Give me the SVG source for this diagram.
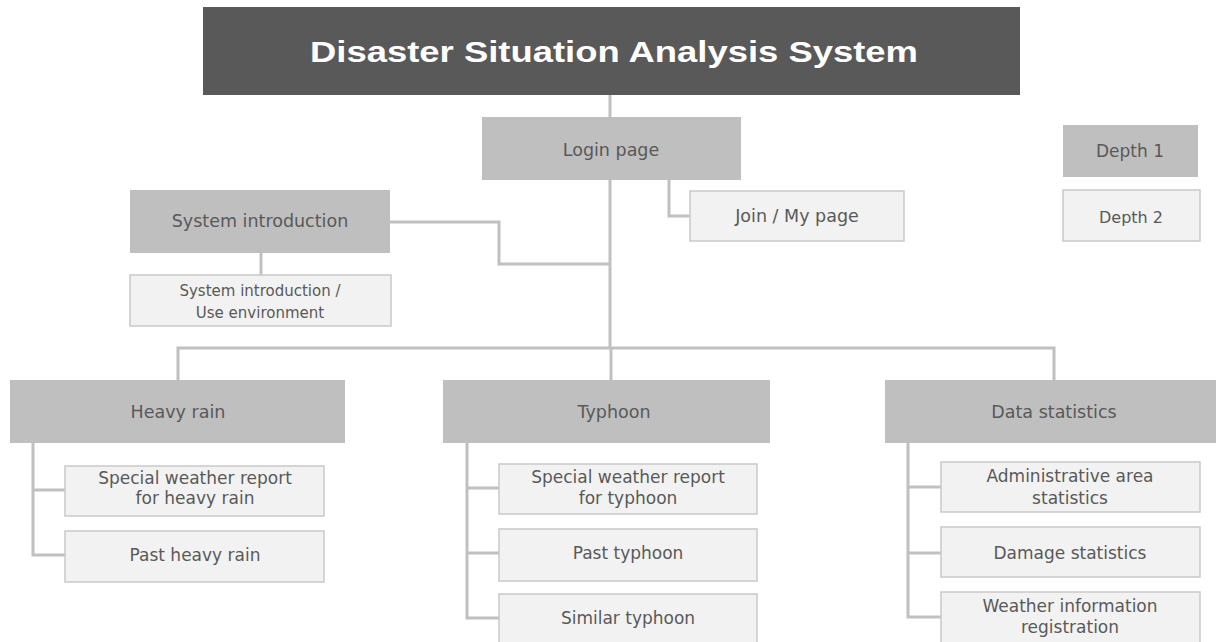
<svg xmlns="http://www.w3.org/2000/svg" width="1218" height="642" viewBox="0 0 1218 642">
<style>
.d1{fill:#bfbfbf;}
.d2{fill:#f2f2f2;stroke:#c9c9c9;stroke-width:1.5;}
.t{font-family:"DejaVu Sans","Noto Sans",sans-serif;fill:#595959;text-anchor:middle;}
.m{font-size:17.5px;}
.k{font-size:17px;}
.s{font-size:15px;}
.c{fill:none;stroke:#c0c0c0;stroke-width:3;}
</style>
<rect width="1218" height="642" fill="#ffffff"/>
<g id="connectors">
<path class="c" d="M610 95 V117"/>
<path class="c" d="M610 180 V348"/>
<path class="c" d="M669 180 V216 H690"/>
<path class="c" d="M390 222 H499 V264 H610"/>
<path class="c" d="M261 253 V275"/>
<path class="c" d="M178 380 V348 H1054 V380"/>
<path class="c" d="M611 348 V380"/>
<path class="c" d="M33 443 V555 H65 M33 490 H65"/>
<path class="c" d="M467 443 V618 H499 M467 488 H499 M467 553 H499"/>
<path class="c" d="M908 443 V617 H941 M908 487 H941 M908 553 H941"/>
</g>
<g id="title">
<rect x="203" y="7" width="817" height="88" fill="#595959"/>
<text x="614" y="62" font-family="Liberation Sans, Arial, sans-serif" font-weight="bold" font-size="30" fill="#ffffff" text-anchor="middle" textLength="608" lengthAdjust="spacingAndGlyphs">Disaster Situation Analysis System</text>
</g>
<g id="login"><rect class="d1" x="482" y="117" width="259" height="63"/><text class="t m" x="611" y="155.5">Login page</text></g>
<g id="join"><rect class="d2" x="690" y="191" width="214" height="50"/><text class="t m" x="797" y="222">Join / My page</text></g>
<g id="sysintro"><rect class="d1" x="130" y="190" width="260" height="63"/><text class="t m" x="260" y="226.5">System introduction</text></g>
<g id="sysintro-sub"><rect class="d2" x="130" y="275" width="261" height="51"/><text class="t s" x="260" y="295.5">System introduction /</text><text class="t s" x="260" y="317.5">Use environment</text></g>
<g id="depth1"><rect class="d1" x="1063" y="125" width="135" height="52"/><text class="t k" x="1130" y="156.5">Depth 1</text></g>
<g id="depth2"><rect class="d2" x="1063" y="190" width="137" height="51"/><text class="t" font-size="16" x="1131" y="223">Depth 2</text></g>
<g id="heavyrain"><rect class="d1" x="10" y="380" width="335" height="63"/><text class="t m" x="178" y="418">Heavy rain</text></g>
<g id="hr1"><rect class="d2" x="65" y="466" width="259" height="50"/><text class="t k" x="195" y="484">Special weather report</text><text class="t k" x="195" y="504">for heavy rain</text></g>
<g id="hr2"><rect class="d2" x="65" y="531" width="259" height="51"/><text class="t k" x="195" y="561">Past heavy rain</text></g>
<g id="typhoon"><rect class="d1" x="443" y="380" width="327" height="63"/><text class="t m" x="614" y="418">Typhoon</text></g>
<g id="ty1"><rect class="d2" x="499" y="464" width="258" height="50"/><text class="t k" x="628" y="483">Special weather report</text><text class="t k" x="628" y="504">for typhoon</text></g>
<g id="ty2"><rect class="d2" x="499" y="529" width="258" height="52"/><text class="t k" x="628" y="559">Past typhoon</text></g>
<g id="ty3"><rect class="d2" x="499" y="594" width="258" height="60"/><text class="t k" x="628" y="624">Similar typhoon</text></g>
<g id="datastats"><rect class="d1" x="885" y="380" width="331" height="63"/><text class="t m" x="1054" y="418">Data statistics</text></g>
<g id="ds1"><rect class="d2" x="941" y="462" width="259" height="50"/><text class="t k" x="1070" y="482">Administrative area</text><text class="t k" x="1070" y="504">statistics</text></g>
<g id="ds2"><rect class="d2" x="941" y="527" width="259" height="50"/><text class="t k" x="1070" y="559">Damage statistics</text></g>
<g id="ds3"><rect class="d2" x="941" y="592" width="259" height="60"/><text class="t k" x="1070" y="612">Weather information</text><text class="t k" x="1070" y="633">registration</text></g>
</svg>
